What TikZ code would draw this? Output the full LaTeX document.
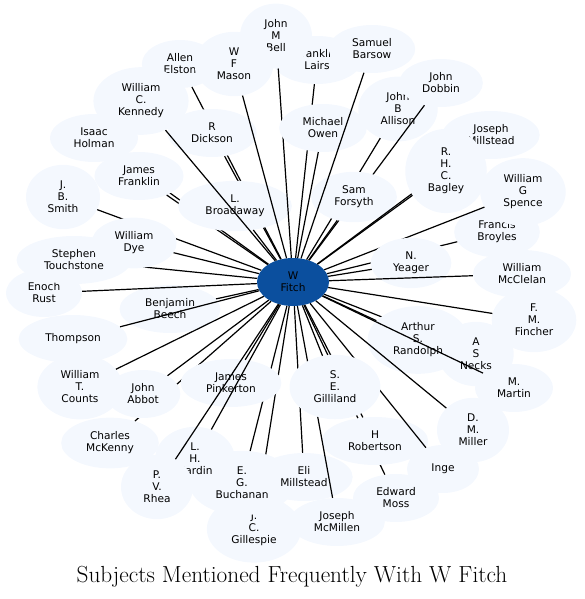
\documentclass[tikz,border=0pt]{standalone}
\usepackage{fontspec}
\newfontfamily\nodefont{DejaVu Sans}
\usetikzlibrary{shapes.geometric}
\definecolor{nodefill}{HTML}{F4F8FE}
\definecolor{hubfill}{HTML}{0B4F9E}
\tikzset{
  nd/.style={ellipse, fill=nodefill, draw=none, align=center,
    font=\nodefont\fontsize{10.6}{12}\selectfont,
    inner xsep=10.7pt, inner ysep=6.8pt, minimum width=72pt, minimum height=48pt},
  hub/.style={nd, fill=hubfill},
  link/.style={draw=black, line width=1.2pt},
  titletext/.style={font=\fontsize{23.3}{27}\selectfont}
}
\newcommand\person[3]{\node[nd] (#1) at (#2) {#3};\draw[link] (fitch) -- (#1);}
\begin{document}
\begin{tikzpicture}[x=1pt,y=-1pt]
\useasboundingbox (0,0) rectangle (584,599);
\node[hub] (fitch) at (293,282) {W\\Fitch};
\person{beech}{170,309}{Benjamin\\Beech}
\person{thompson}{73,339}{Thompson}
\person{rust}{44,293}{Enoch\\Rust}
\person{holman}{94,138}{Isaac\\Holman}
\person{franklin}{139,176}{James\\Franklin}
\person{smith}{63,197}{J.\\B.\\Smith}
\person{touchstone}{74,260}{Stephen\\Touchstone}
\person{dye}{134,243}{William\\Dye}
\person{elston}{180,64}{Allen\\Elston}
\person{dickson}{212,133}{R\\Dickson}
\person{broadaway}{235,206}{L.\\Broadaway}
\person{kennedy}{141,101}{William\\C.\\Kennedy}
\person{lairs}{317,60}{Franklin\\Lairs}
\person{bell}{276,36}{John\\M\\Bell}
\person{mason}{234,64}{W\\F\\Mason}
\person{allison}{398,109}{John\\B\\Allison}
\person{dobbin}{441,83}{John\\Dobbin}
\person{forsyth}{354,197}{Sam\\Forsyth}
\person{owen}{323,128}{Michael\\Owen}
\person{barsow}{372,49}{Samuel\\Barsow}
\person{jmill}{491,135}{Joseph\\Millstead}
\person{bagley}{446,171}{R.\\H.\\C.\\Bagley}
\person{broyles}{497,232}{Francis\\Broyles}
\person{spence}{523,192}{William\\G\\Spence}
\person{yeager}{411,263}{N.\\Yeager}
\person{mcclelan}{522,274}{William\\McClelan}
\person{fincher}{534,320}{F.\\M.\\Fincher}
\person{necks}{476,354}{A\\S\\Necks}
\person{randolph}{418,340}{Arthur\\S.\\Randolph}
\person{martin}{514,388}{M.\\Martin}
\person{miller}{473,430}{D.\\M.\\Miller}
\person{moss}{396,498}{Edward\\Moss}
\person{robertson}{375,441}{H\\Robertson}
\person{inge}{443,469}{Inge}
\person{gillespie}{254,529}{J.\\C.\\Gillespie}
\person{buchanan}{242,483}{E.\\G.\\Buchanan}
\person{emill}{304,477}{Eli\\Millstead}
\person{mcmillen}{337,522}{Joseph\\McMillen}
\person{gilliland}{335,387}{S.\\E.\\Gilliland}
\person{mckenny}{110,443}{Charles\\McKenny}
\person{pinkerton}{231,383}{James\\Pinkerton}
\person{hardin}{195,459}{L.\\H.\\Hardin}
\person{rhea}{157,487}{P.\\V.\\Rhea}
\person{abbot}{143,394}{John\\Abbot}
\person{counts}{80,387}{William\\T.\\Counts}
\node[titletext] (title) at (292,577) {Subjects Mentioned Frequently With W Fitch};
\end{tikzpicture}
\end{document}
